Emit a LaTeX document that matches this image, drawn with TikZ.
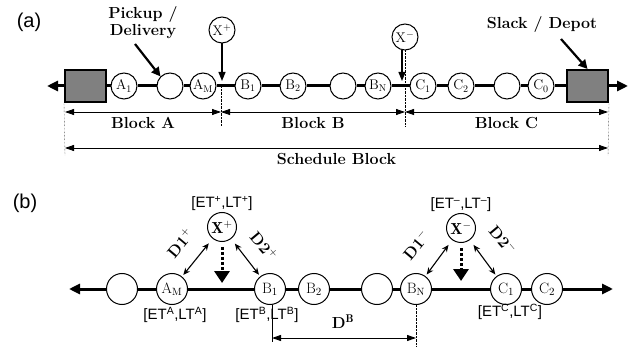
\documentclass[tikz,border=0pt]{standalone}
\usepackage{fontspec}
\newfontfamily\sanslabel{Liberation Sans}
\usetikzlibrary{arrows.meta,positioning}

\begin{document}
\begin{tikzpicture}[x=1pt, y=-1pt,
  visit/.style={circle, draw, line width=1pt, fill=white, inner sep=0pt, minimum size=26pt, font=\fontsize{14}{14}\selectfont},
  bigvisit/.style={visit, minimum size=31pt, font=\fontsize{15}{15}\selectfont},
  depot/.style={draw, line width=2pt, fill=black!50, minimum width=41pt, minimum height=32pt, inner sep=0pt},
  route/.style={line width=3pt},
  bold label/.style={font=\fontsize{16}{17}\selectfont\bfseries},
  window/.style={font=\sanslabel\fontsize{15}{16}\selectfont, inner sep=1pt},
  dimline/.style={line width=0.8pt, {Triangle[length=9pt,width=6pt]}-{Triangle[length=9pt,width=6pt]}},
  pointer/.style={line width=2.2pt, -{Triangle[length=9pt,width=9pt]}},
  insert/.style={line width=3pt, dash pattern=on 3pt off 2pt, -{Triangle[length=12pt,width=15pt]}},
  dist/.style={line width=1.1pt, {Stealth[length=7pt,width=6pt]}-{Stealth[length=7pt,width=6pt]}}]
  \useasboundingbox (0,0) rectangle (644,352);

  % (a) schedule blocks
  \node[font=\sanslabel\fontsize{20}{20}\selectfont] (tagA) at (29,22) {(a)};
  \node[depot] (boxL) at (85.5,86) {};
  \node[visit] (a1) at (124,86) {A$_1$};
  \node[visit] (ea) at (170,86) {};
  \node[visit] (am) at (203,86) {A$_\mathrm{M}$};
  \node[visit] (b1) at (248,86) {B$_1$};
  \node[visit] (b2) at (293,86) {B$_2$};
  \node[visit] (eb) at (343,86) {};
  \node[visit] (bn) at (378,86) {B$_\mathrm{N}$};
  \node[visit] (c1) at (423,86) {C$_1$};
  \node[visit] (c2) at (461,86) {C$_2$};
  \node[visit] (ec) at (507,86) {};
  \node[visit] (c0) at (541,86) {C$_0$};
  \node[depot] (boxR) at (587.5,86) {};
  \coordinate (tipL) at (47,86);
  \coordinate (tipR) at (628,86);
  \draw[route, {Triangle[length=11pt,width=10pt]}-] (tipL) -- (boxL);
  \draw[route] (boxL) -- (a1) -- (ea) -- (am) -- (b1) -- (b2) -- (eb) -- (bn) -- (c1) -- (c2) -- (ec) -- (c0) -- (boxR);
  \draw[route, -{Triangle[length=11pt,width=10pt]}] (boxR) -- (tipR);

  \node[visit] (xp) at (222,30) {X$^+$};
  \node[visit] (xm) at (405,37) {X$^-$};
  \coordinate (xpend) at (222,81);
  \coordinate (xmend) at (402,81);
  \draw[line width=1.2pt, -{Triangle[length=9pt,width=7pt]}] (xp) -- (xpend);
  \draw[line width=1.2pt, -{Triangle[length=9pt,width=7pt]}] (xm.south -| xmend) -- (xmend);
  \draw[thin, densely dotted] (221,86) -- (221,126);
  \draw[thin, densely dotted] (405,50) -- (405,126);
  \draw[thin, densely dotted] (boxL.south west) -- (65,156);
  \draw[thin, densely dotted] (boxR.south east) -- (608,156);

  \coordinate (sA) at (65,112);
  \coordinate (sB) at (221,112);
  \coordinate (sC) at (405,112);
  \coordinate (sD) at (608,112);
  \draw[dimline] (sA) -- (sB) node[midway, below=2pt, bold label] {Block A};
  \draw[dimline] (sB) -- (sC) node[midway, below=2pt, bold label] {Block B};
  \draw[dimline] (sC) -- (sD) node[midway, below=2pt, bold label] {Block C};
  \coordinate (schL) at (65,148);
  \coordinate (schR) at (608,148);
  \draw[dimline] (schL) -- (schR) node[midway, below=2pt, bold label] {Schedule Block};

  \node[bold label, align=center] (pickup) at (143,23) {Pickup /\\Delivery};
  \draw[pointer] (135,44) coordinate (pk) -- (ea.north west);
  \node[bold label] (slack) at (542,25) {Slack / Depot};
  \draw[pointer] (561,39) coordinate (sk) -- (boxR.north);

  % (b) insertion of a new request
  \node[font=\sanslabel\fontsize{20}{20}\selectfont] (tagB) at (25,203) {(b)};
  \node[bigvisit] (e1) at (122,289) {};
  \node[bigvisit] (am2) at (172,289) {A$_\mathrm{M}$};
  \node[bigvisit] (b12) at (270,289) {B$_1$};
  \node[bigvisit] (b22) at (314,289) {B$_2$};
  \node[bigvisit] (e2) at (377,289) {};
  \node[bigvisit] (bn2) at (416,289) {B$_\mathrm{N}$};
  \node[bigvisit] (c12) at (506,289) {C$_1$};
  \node[bigvisit] (c22) at (547,289) {C$_2$};
  \coordinate (tipL2) at (69,289);
  \coordinate (tipR2) at (613,289);
  \draw[route, {Triangle[length=11pt,width=10pt]}-] (tipL2) -- (e1);
  \draw[route] (e1) -- (am2) -- (b12) -- (b22) -- (e2) -- (bn2) -- (c12) -- (c22);
  \draw[route, -{Triangle[length=11pt,width=10pt]}] (c22) -- (tipR2);

  \node[visit, minimum size=29pt, font=\fontsize{16}{16}\selectfont] (xp2) at (222,227) {$\mathbf{X}^{+}$};
  \node[visit, minimum size=29pt, font=\fontsize{16}{16}\selectfont] (xm2) at (461,228) {$\mathbf{X}^{-}$};
  \node[window, above=0pt of xp2] (wp) {[ET\textsuperscript{+},LT\textsuperscript{+}]};
  \node[window, above=0pt of xm2] (wm) {[ET\textsuperscript{\textendash},LT\textsuperscript{\textendash}]};
  \node[window, below=1pt of am2, xshift=3pt] (wa) {[ET\textsuperscript{A},LT\textsuperscript{A}]};
  \node[window, below=1pt of b12, xshift=-3pt] (wb) {[ET\textsuperscript{B},LT\textsuperscript{B}]};
  \node[window, below=-2pt of c12, xshift=4pt] (wc) {[ET\textsuperscript{C},LT\textsuperscript{C}]};

  \coordinate (xp2end) at (222,283);
  \coordinate (xm2end) at (461,281);
  \draw[insert, shorten <=5pt] (xp2) -- (xp2end);
  \draw[insert, shorten <=5pt] (xm2) -- (xm2end);

  \draw[dist, shorten <=2pt, shorten >=6pt] (am2) -- (xp2);
  \draw[dist, shorten <=6pt, shorten >=2pt] (xp2) -- (b12);
  \draw[dist, shorten <=2pt, shorten >=6pt] (bn2) -- (xm2);
  \draw[dist, shorten <=6pt, shorten >=2pt] (xm2) -- (c12);
  \node[bold label, rotate=50] (d1p) at (180,243) {D1$^{+}$};
  \node[bold label, rotate=-50] (d2p) at (264,246) {D2$^{+}$};
  \node[bold label, rotate=50] (d1m) at (416,245) {D1$^{-}$};
  \node[bold label, rotate=-50] (d2m) at (503,240) {D2$^{-}$};

  \coordinate (dbL) at (272,338);
  \coordinate (dbR) at (416,338);
  \draw[line width=0.8pt] (b12.south -| dbL) -- (272,342);
  \draw[thin, densely dotted] (bn2.south) -- (416,346);
  \draw[dimline, line width=1pt] (dbL) -- (dbR);
  \node[bold label] (db) at (343,322) {D$^{\mathbf{B}}$};
\end{tikzpicture}
\end{document}
